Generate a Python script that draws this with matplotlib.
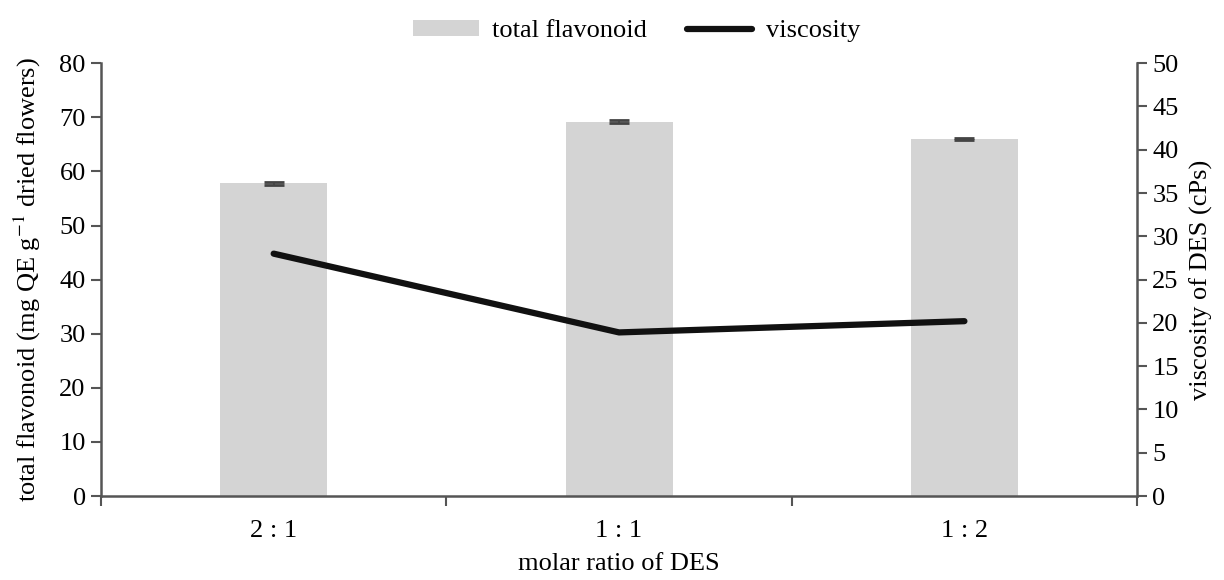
import matplotlib.pyplot as plt
import numpy as np

plt.rcParams["font.family"] = ["Liberation Serif", "DejaVu Serif"]
plt.rcParams["mathtext.fontset"] = "stix"

# data
ratios = ["2 : 1", "1 : 1", "1 : 2"]
flavonoid = [57.8, 69.2, 66.0]
flavonoid_err = [0.3, 0.3, 0.2]
viscosity = [28.0, 18.9, 20.2]

x = np.arange(len(ratios))
spine_col = "#555555"
fs = 19

fig = plt.figure(figsize=(12.24, 5.8), dpi=100)
ax = fig.add_axes([0.0825, 0.1448, 0.8465, 0.7462])
ax2 = ax.twinx()

bars = ax.bar(x, flavonoid, width=0.31, color="#d4d4d4", label="total flavonoid", zorder=2)
ax.errorbar(x, flavonoid, yerr=flavonoid_err, fmt="none", ecolor="#444444",
            elinewidth=1.2, capsize=7, capthick=2, zorder=3)
line, = ax2.plot(x, viscosity, color="#111111", lw=4.5, solid_capstyle="round",
                 label="viscosity")

ax.set_xlim(-0.5, 2.5)
ax.set_ylim(0, 80)
ax2.set_ylim(0, 50)
ax.set_yticks(np.arange(0, 81, 10))
ax2.set_yticks(np.arange(0, 51, 5))

# category labels in the middle, tick marks at the boundaries
ax.set_xticks(x)
ax.set_xticklabels(ratios)
ax.set_xticks(np.arange(-0.5, 3, 1), minor=True)
ax.tick_params(axis="x", which="major", length=0, pad=17, labelsize=fs)
ax.tick_params(axis="x", which="minor", length=7, width=1.5, color=spine_col)
ax.tick_params(axis="y", length=7, width=1.5, color=spine_col, labelsize=fs, pad=4)
ax2.tick_params(axis="y", length=7, width=1.5, color=spine_col, labelsize=fs, pad=4)

for a in (ax, ax2):
    a.spines["top"].set_visible(False)
    for s in ("left", "right", "bottom"):
        a.spines[s].set_color(spine_col)
        a.spines[s].set_linewidth(1.8)
ax.spines["right"].set_visible(False)
ax2.spines["left"].set_visible(False)
ax2.spines["bottom"].set_visible(False)

ax.set_xlabel("molar ratio of DES", fontsize=fs, labelpad=8)
ax.set_ylabel("total flavonoid (mg QE g$^{-1}$ dried flowers)", fontsize=fs, labelpad=12)
ax2.set_ylabel("viscosity of DES (cPs)", fontsize=fs, labelpad=8)

fig.legend([bars, line], ["total flavonoid", "viscosity"], loc="upper center",
           bbox_to_anchor=(0.52, 1.007), ncol=2, frameon=False, fontsize=fs,
           handlelength=2.5, handleheight=0.6, columnspacing=1.5, handletextpad=0.5)

fig.savefig("out.png", dpi=100)
